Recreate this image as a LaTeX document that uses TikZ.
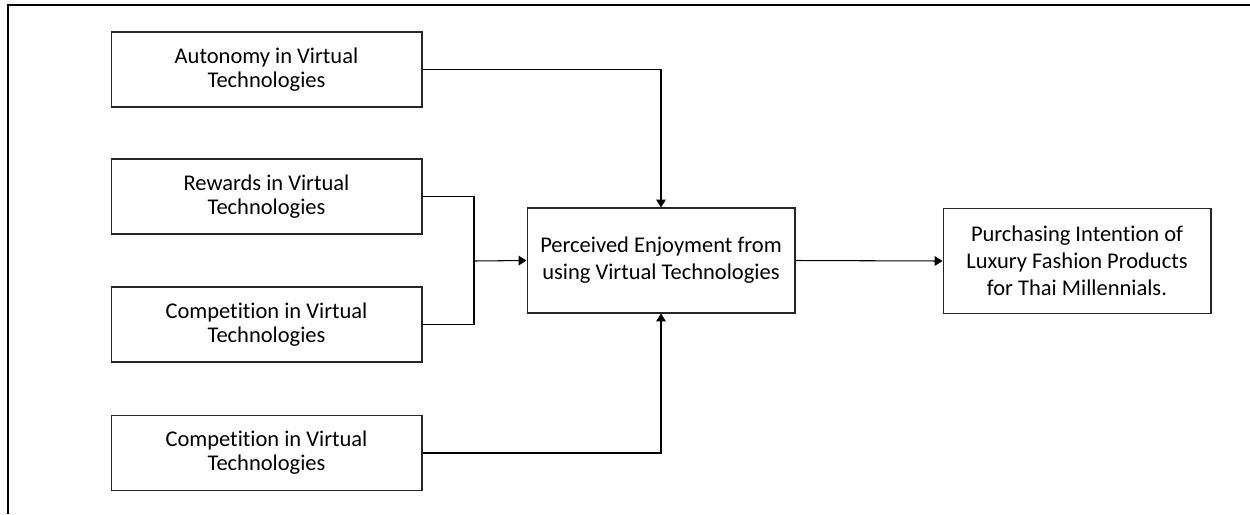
\documentclass[tikz,border=0pt]{standalone}
\usepackage{fontspec}
\setmainfont{Carlito}[Ligatures={NoCommon,NoRare}]
\usepackage{tikz}
\usetikzlibrary{arrows.meta,calc}
\newcommand{\bw}{6.22cm}
\newcommand{\bh}{1.5cm}

\begin{document}
\begin{tikzpicture}[x=0.02cm,y=-0.02cm,line width=0.6pt,
  box/.style={draw=black!85,minimum width=\bw,minimum height=\bh,align=center,
    font=\fontsize{12.8}{13.6}\selectfont},
  bigbox/.style={box,minimum width=5.36cm,minimum height=2.1cm,
    font=\fontsize{12.8}{15.4}\selectfont},
  arr/.style={-{Triangle[length=4.5pt,width=5.5pt]}}]
\useasboundingbox (0,0) rectangle (1250,514);
\draw (8,514) -- (8,5) -- (1250,5);

\coordinate (p1) at (266.5,69.5);
\coordinate (p2) at (266.5,196.5);
\coordinate (p3) at (266.5,324.5);
\coordinate (p4) at (266.5,453);
\coordinate (q) at (661,260.5);
\coordinate (r) at (1077,261);
\coordinate (j) at (474,261);

\node[box] (aut) at (p1) {Autonomy in Virtual\\Technologies};
\node[box] (rew) at (p2) {Rewards in Virtual\\Technologies};
\node[box] (comp) at (p3) {Competition in Virtual\\Technologies};
\node[box] (comp2) at (p4) {Competition in Virtual\\Technologies};
\node[bigbox] (enj) at (q) {Perceived Enjoyment from\\using Virtual Technologies};
\node[bigbox] (pur) at (r) {Purchasing Intention of\\Luxury Fashion Products\\for Thai Millennials.};

\draw[arr] (aut.east) -| (enj.north);
\foreach \h in {rew,comp}{
\draw (\h.east) -| (j);
}
\draw[arr] (j) -- (enj.west);
\draw[arr] (comp2.east) -| (enj.south);
\draw[arr] (enj.east) -- (pur.west);
\end{tikzpicture}
\end{document}
